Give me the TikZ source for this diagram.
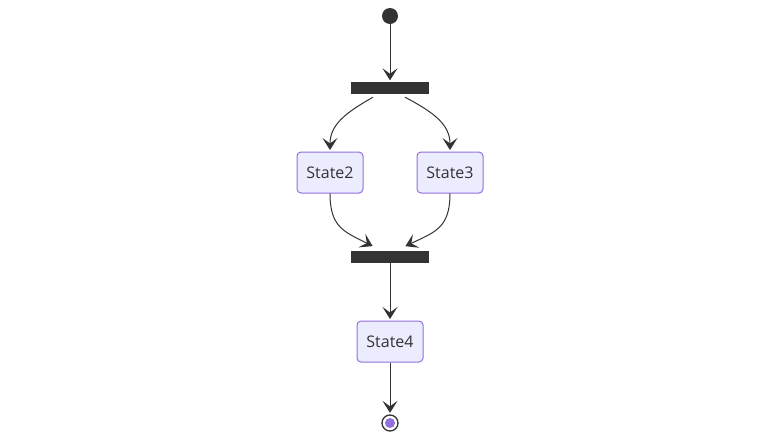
\documentclass[tikz,border=0pt]{standalone}
\usepackage{fontspec}
\setmainfont{Open Sans}
\usetikzlibrary{arrows.meta,calc}
\definecolor{boxfill}{HTML}{ECECFF}
\definecolor{boxline}{HTML}{9370DB}
\definecolor{ink}{HTML}{333333}
\tikzset{
  statebox/.style={draw=boxline, fill=boxfill, line width=1pt, rounded corners=4pt,
    minimum width=66pt, minimum height=41pt, inner sep=0pt, text=ink, font=\fontsize{16}{18}\selectfont},
  barnode/.style={fill=ink, draw=none, minimum width=78pt, minimum height=12pt, inner sep=0pt},
  conn/.style={draw=ink, line width=1pt, shorten >=1.5pt, -{Stealth[length=12pt,width=15pt,inset=5.5pt]}},
}
\begin{document}
\begin{tikzpicture}[x=1pt,y=-1pt]
\useasboundingbox (0,0) rectangle (780,440);
\fill[white] (0,0) rectangle (780,440);
\node[circle, fill=ink, minimum size=16pt, inner sep=0pt] (start) at (390,16) {};
\node[barnode] (fork) at (390,88) {};
\node[statebox] (s2) at (330,172.5) {State2};
\node[statebox] (s3) at (450,172.5) {State3};
\node[barnode] (join) at (390,257) {};
\node[statebox] (s4) at (390,341.5) {State4};
\node[circle, draw=ink, line width=1.3pt, fill=white, minimum size=16pt, inner sep=0pt] (end) at (390,423) {};
\node[circle, fill=boxline, minimum size=10pt, inner sep=0pt] (endin) at (end.center) {};
\coordinate (f1) at ($(fork.south)+(-17,3)$);
\coordinate (f2) at ($(fork.south)+(15,3)$);
\coordinate (j1) at ($(join.north)+(-16,-4)$);
\coordinate (j2) at ($(join.north)+(14,-4)$);
\draw[conn] (start) -- (fork.north);
\draw[conn] (f1) .. controls (345,113) and (330,125) .. (s2.north);
\draw[conn] (f2) .. controls (435,113) and (450,125) .. (s3.north);
\draw[conn] (s2.south) .. controls (330,228) and (345,232) .. (j1);
\draw[conn] (s3.south) .. controls (450,228) and (435,232) .. (j2);
\draw[conn] (join.south) -- (s4.north);
\draw[conn] (s4.south) -- (end.north);
\end{tikzpicture}
\end{document}
